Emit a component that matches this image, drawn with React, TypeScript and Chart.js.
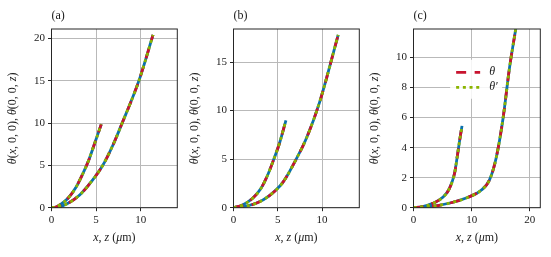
import React, { useEffect, useRef } from "react";
import { Chart, registerables } from "chart.js";

Chart.register(...registerables);

// ---- data ----
const aShortX = [0, 0.5, 0.92, 1.85, 2.78, 3.53, 4.17, 4.84, 5.58];
const aShortY = [0, 0.08, 0.32, 1.11, 2.48, 4.06, 5.6, 7.6, 9.85];
const aLongX = [0, 0.7, 1.85, 3.16, 4.46, 5.77, 6.89, 7.83, 9.8, 11.38];
const aLongY = [0, 0.05, 0.52, 1.5, 3.07, 5.04, 7.4, 9.76, 15.0, 20.4];

const bShortX = [0, 1.02, 2.16, 3.11, 3.86, 4.55, 5.19, 5.92];
const bShortY = [0, 0.28, 0.97, 2.0, 3.37, 4.99, 6.64, 9.0];
const bLongX = [0, 0.8, 2.55, 4.06, 5.57, 6.9, 8.23, 9.74, 11.82];
const bLongY = [0, 0.05, 0.45, 1.25, 2.6, 4.7, 7.15, 10.93, 17.8];

const cShortX = [0, 1.58, 3.31, 5.04, 6.19, 7.06, 7.52, 7.92, 8.34];
const cShortY = [0, 0.07, 0.29, 0.69, 1.29, 2.29, 3.4, 4.45, 5.45];
const cLongX = [0, 1.0, 3.59, 6.48, 9.38, 11.68, 13.07, 14.2, 15.4, 16.5, 17.62];
const cLongY = [0, 0.02, 0.11, 0.33, 0.69, 1.18, 1.85, 3.29, 5.96, 9.3, 12.0];

const aXTicks = [0, 5, 10];
const aYTicks = [0, 5, 10, 15, 20];
const bXTicks = [0, 5, 10];
const bYTicks = [0, 5, 10, 15];
const cXTicks = [0, 10, 20];
const cYTicks = [0, 2, 4, 6, 8, 10];

const aLimits = [0, 14.1, 0, 21.1];
const bLimits = [0, 14.2, 0, 18.4];
const cLimits = [0, 21.8, 0, 11.9];

const panelLabels = ["(a)", "(b)", "(c)"];
const legendLabels = ["θ", "θ′"];

// ---- styling ----
const FONT = '"Liberation Serif", "DejaVu Serif", serif';
const BLUE = "#0b70ad";
const RED = "#c8142f";
const GREEN = "#8bb400";
const TEXT = "#1a1a1a";
const SPINE = "#262626";
const GRID = "#b9b9b9";
const LW = 2.8;
const RED_DASH = [10, 8.5];
const GREEN_DASH = [3, 3.7];
const TICK_SIZE = 11;
const TITLE_SIZE = 12;

type Seg = [string, boolean];
const yTitleSegs: Seg[] = [
  ["θ", true], ["(", false], ["x", true], [", 0, 0), ", false],
  ["θ", true], ["(0, 0, ", false], ["z", true], [")", false],
];
const xTitleSegs: Seg[] = [
  ["x", true], [", ", false], ["z", true], [" (", false], ["μ", true], ["m)", false],
];

function drawSegs(ctx: CanvasRenderingContext2D, segs: Seg[], size: number, cx: number, cy: number, rotate: boolean) {
  ctx.save();
  ctx.translate(cx, cy);
  if (rotate) ctx.rotate(-Math.PI / 2);
  const font = (it: boolean) => `${it ? "italic " : ""}${size}px ${FONT}`;
  let total = 0;
  const widths = segs.map(([t, it]) => {
    ctx.font = font(it);
    const w = ctx.measureText(t).width;
    total += w;
    return w;
  });
  let x = -total / 2;
  ctx.textBaseline = "middle";
  ctx.textAlign = "left";
  ctx.fillStyle = TEXT;
  segs.forEach(([t, it], i) => {
    ctx.font = font(it);
    ctx.fillText(t, x, 0);
    x += widths[i];
  });
  ctx.restore();
}

type PanelCfg = {
  left: number;
  width: number;
  label: string;
  curves: [number[], number[]][];
  limits: number[];
  xTicks: number[];
  yTicks: number[];
  legend: boolean;
};

const PLOT_LEFT = 51.5;
const PLOT_TOP = 29;
const PLOT_BOTTOM = 207.7;
const H = 257;

const panels: PanelCfg[] = [
  { left: 0, width: 182, label: panelLabels[0], curves: [[aShortX, aShortY], [aLongX, aLongY]], limits: aLimits, xTicks: aXTicks, yTicks: aYTicks, legend: false },
  { left: 182, width: 180, label: panelLabels[1], curves: [[bShortX, bShortY], [bLongX, bLongY]], limits: bLimits, xTicks: bXTicks, yTicks: bYTicks, legend: false },
  { left: 362, width: 189, label: panelLabels[2], curves: [[cShortX, cShortY], [cLongX, cLongY]], limits: cLimits, xTicks: cXTicks, yTicks: cYTicks, legend: true },
];
const plotRights = [177.3, 177.3, 178.3];

function Panel({ cfg, plotRight }: { cfg: PanelCfg; plotRight: number }) {
  const ref = useRef<HTMLCanvasElement>(null);
  useEffect(() => {
    const styles = [
      { color: BLUE, dash: [] as number[], order: 3 },
      { color: RED, dash: RED_DASH, order: 2 },
      { color: GREEN, dash: GREEN_DASH, order: 1 },
    ];
    const datasets: any[] = [];
    cfg.curves.forEach(([xs, ys]) => {
      styles.forEach((s) => {
        datasets.push({
          data: xs.map((x, i) => ({ x, y: ys[i] })),
          borderColor: s.color,
          borderWidth: LW,
          borderDash: s.dash,
          borderCapStyle: "butt",
          pointRadius: 0,
          showLine: true,
          fill: false,
          cubicInterpolationMode: "monotone",
          order: s.order,
          clip: 0,
        });
      });
    });

    const decor = {
      id: "decor",
      afterDatasetsDraw(chart: any) {
        const ctx: CanvasRenderingContext2D = chart.ctx;
        const a = chart.chartArea;
        // spines
        ctx.save();
        ctx.strokeStyle = SPINE;
        ctx.lineWidth = 1;
        ctx.strokeRect(a.left, a.top, a.right - a.left, a.bottom - a.top);
        ctx.restore();
        // panel label
        ctx.save();
        ctx.font = `12px ${FONT}`;
        ctx.fillStyle = TEXT;
        ctx.textAlign = "left";
        ctx.textBaseline = "middle";
        ctx.fillText(cfg.label, a.left, 15.5);
        ctx.restore();
        // axis titles
        drawSegs(ctx, yTitleSegs, TITLE_SIZE, a.left - 39, (a.top + a.bottom) / 2, true);
        drawSegs(ctx, xTitleSegs, TITLE_SIZE, (a.left + a.right) / 2, 237.5, false);
        // legend
        if (cfg.legend) {
          const xs = chart.scales.x;
          const ys = chart.scales.y;
          const bx = xs.getPixelForValue(6.3);
          const by = ys.getPixelForValue(9.85);
          const bw = 52;
          const bh = 39;
          ctx.save();
          ctx.fillStyle = "rgba(255,255,255,0.85)";
          ctx.beginPath();
          (ctx as any).roundRect ? (ctx as any).roundRect(bx, by, bw, bh, 2) : ctx.rect(bx, by, bw, bh);
          ctx.fill();
          const lx0 = bx + 6;
          const lx1 = lx0 + 24;
          const rows = [
            { color: RED, dash: RED_DASH, y: by + 12.5, text: legendLabels[0] },
            { color: GREEN, dash: GREEN_DASH, y: by + 27.5, text: legendLabels[1] },
          ];
          rows.forEach((r) => {
            ctx.strokeStyle = r.color;
            ctx.lineWidth = LW;
            ctx.lineCap = "butt";
            ctx.setLineDash(r.dash);
            ctx.beginPath();
            ctx.moveTo(lx0, r.y);
            ctx.lineTo(lx1, r.y);
            ctx.stroke();
            ctx.setLineDash([]);
            ctx.font = `italic 12px ${FONT}`;
            ctx.fillStyle = TEXT;
            ctx.textAlign = "left";
            ctx.textBaseline = "middle";
            ctx.fillText(r.text, lx1 + 9, r.y);
          });
          ctx.restore();
        }
      },
    };

    const tickFont = { family: FONT, size: TICK_SIZE };
    const mkTicks = (arr: number[]) => (s: any) => {
      s.ticks = arr.map((v) => ({ value: v }));
    };

    const chart = new Chart(ref.current as HTMLCanvasElement, {
      type: "scatter",
      data: { datasets },
      plugins: [decor],
      options: {
        animation: false,
        responsive: false,
        devicePixelRatio: 1,
        layout: { padding: { left: 0, top: PLOT_TOP, right: cfg.width - plotRight, bottom: 0 } },
        plugins: { legend: { display: false }, tooltip: { enabled: false } },
        scales: {
          x: {
            type: "linear",
            min: cfg.limits[0],
            max: cfg.limits[1],
            afterBuildTicks: mkTicks(cfg.xTicks),
            afterFit: (s: any) => { s.height = H - PLOT_BOTTOM; },
            grid: { color: GRID, lineWidth: 1, drawTicks: true, tickLength: 3.5, tickColor: SPINE, tickWidth: 1 },
            border: { display: false },
            ticks: { font: tickFont, color: TEXT, padding: 2, maxRotation: 0, autoSkip: false },
          },
          y: {
            type: "linear",
            min: cfg.limits[2],
            max: cfg.limits[3],
            afterBuildTicks: mkTicks(cfg.yTicks),
            afterFit: (s: any) => { s.width = PLOT_LEFT; },
            grid: { color: GRID, lineWidth: 1, drawTicks: true, tickLength: 3.5, tickColor: SPINE, tickWidth: 1 },
            border: { display: false },
            ticks: { font: tickFont, color: TEXT, padding: 3, autoSkip: false },
          },
        },
      } as any,
    });
    return () => chart.destroy();
  }, [cfg, plotRight]);
  return (
    <canvas
      ref={ref}
      width={cfg.width}
      height={H}
      style={{ position: "absolute", left: cfg.left, top: 0, width: cfg.width, height: H }}
    />
  );
}

export default function App() {
  return (
    <div style={{ position: "absolute", left: 0, top: 0, width: 551, height: 257, background: "#fff" }}>
      {panels.map((p, i) => (
        <Panel key={i} cfg={p} plotRight={plotRights[i]} />
      ))}
    </div>
  );
}
